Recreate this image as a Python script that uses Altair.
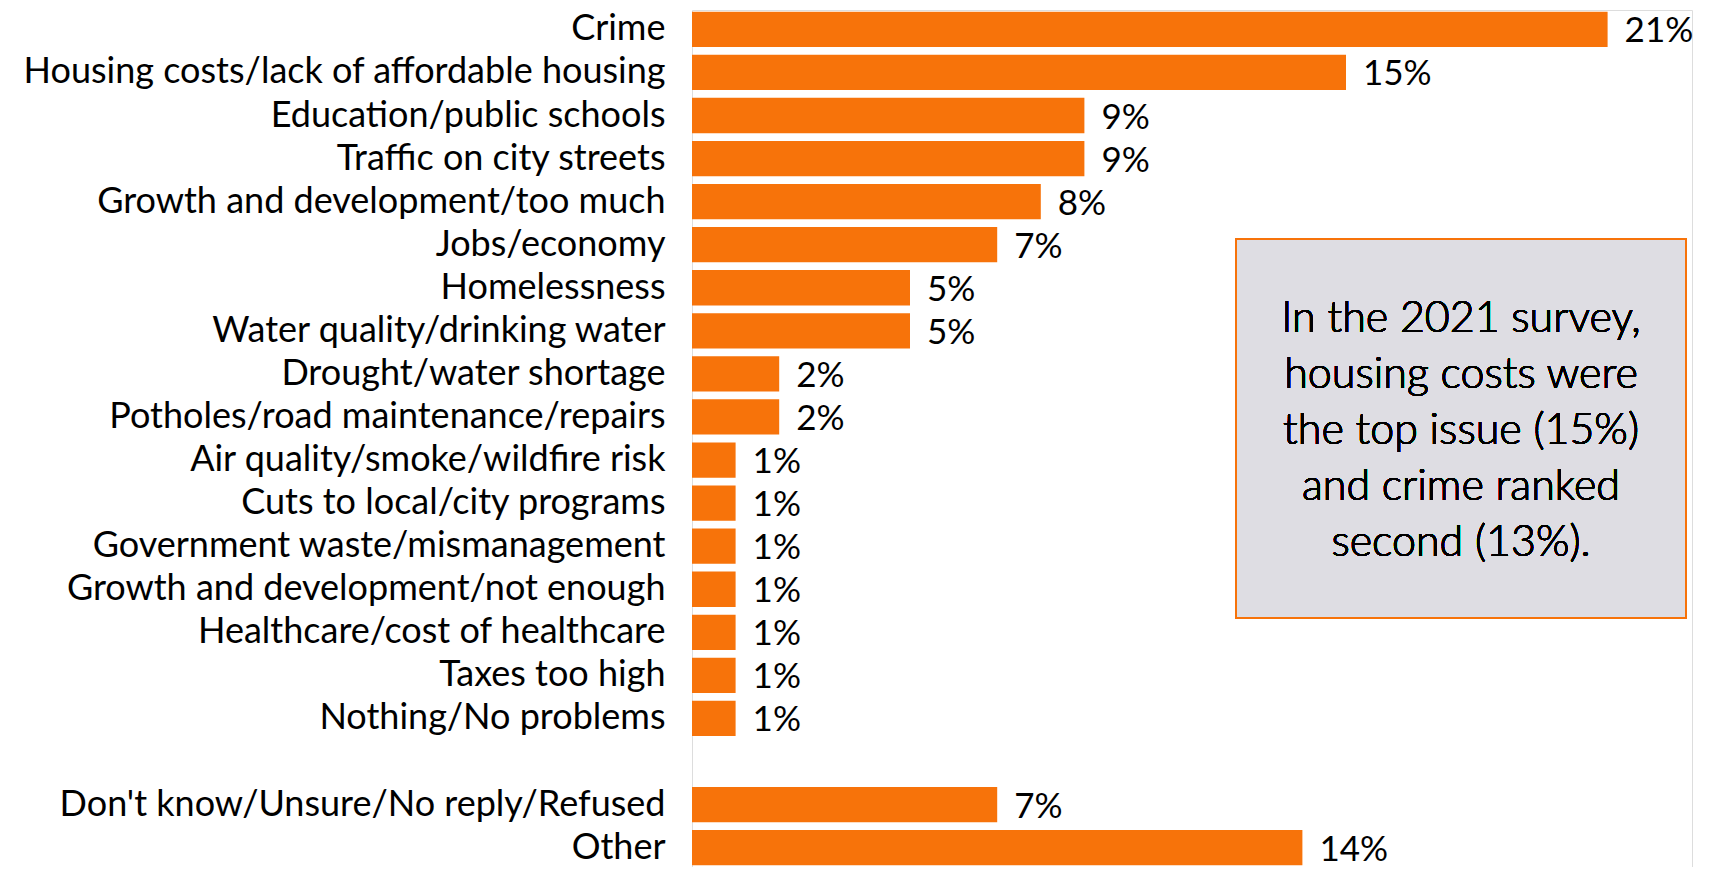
import altair as alt
import pandas as pd

categories = [
    "Crime",
    "Housing costs/lack of affordable housing",
    "Education/public schools",
    "Traffic on city streets",
    "Growth and development/too much",
    "Jobs/economy",
    "Homelessness",
    "Water quality/drinking water",
    "Drought/water shortage",
    "Potholes/road maintenance/repairs",
    "Air quality/smoke/wildfire risk",
    "Cuts to local/city programs",
    "Government waste/mismanagement",
    "Growth and development/not enough",
    "Healthcare/cost of healthcare",
    "Taxes too high",
    "Nothing/No problems",
    "Don't know/Unsure/No reply/Refused",
    "Other",
]
values = [21, 15, 9, 9, 8, 7, 5, 5, 2, 2, 1, 1, 1, 1, 1, 1, 1, 7, 14]
labels = [f"{v}%" for v in values]

note_lines = [
    "In the 2021 survey,",
    "housing costs were",
    "the top issue (15%)",
    "and crime ranked",
    "second (13%).",
]

spacer = " "
domain = categories[:17] + [spacer] + categories[17:]

df = pd.DataFrame({"cat": categories, "val": values, "lab": labels})

ORANGE = "#F7730A"
FONT = "Lato"

W, H = 1000, 857

y_enc = alt.Y(
    "cat:N",
    sort=domain,
    scale=alt.Scale(domain=domain, paddingInner=0.18, paddingOuter=0.04),
    axis=alt.Axis(
        title=None,
        domain=False,
        ticks=False,
        grid=False,
        labelPadding=27,
        labelFontSize=36,
        labelFont=FONT,
        labelFontWeight="normal",
        labelColor="black",
        labelLimit=0,
    ),
)
x_enc = alt.X("val:Q", scale=alt.Scale(domain=[0, W / 43.6], nice=False, zero=True), axis=None)

bars = alt.Chart(df).mark_bar(color=ORANGE, cornerRadius=0).encode(y=y_enc, x=x_enc)
texts = alt.Chart(df).mark_text(
    align="left", baseline="middle", dx=17, dy=2, fontSize=35, font=FONT,
    fontWeight="normal", color="black"
).encode(y=alt.Y("cat:N", sort=domain), x="val:Q", text="lab:N")

box = alt.Chart(df).mark_rect(
    fill="#DEDDE3", stroke=ORANGE, strokeWidth=2
).encode(
    x=alt.value(544), x2=alt.value(994), y=alt.value(229), y2=alt.value(608)
)
note = alt.Chart(df).mark_text(
    align="center", baseline="middle", fontSize=43, font=FONT, fontWeight=300,
    color="black", lineHeight=56
).encode(
    x=alt.value(769), y=alt.value(309), text=alt.value(note_lines)
)

chart = (
    alt.layer(bars, texts, box, note)
    .properties(
        width=W,
        height=H,
        autosize=alt.AutoSizeParams(type="none"),
        padding={"left": 684, "top": 2, "right": 12, "bottom": 0},
    )
    .configure_view(stroke=None)
    .configure(background="white")
)

chart.save("out.html", embed_options={"renderer": "svg", "actions": False})
